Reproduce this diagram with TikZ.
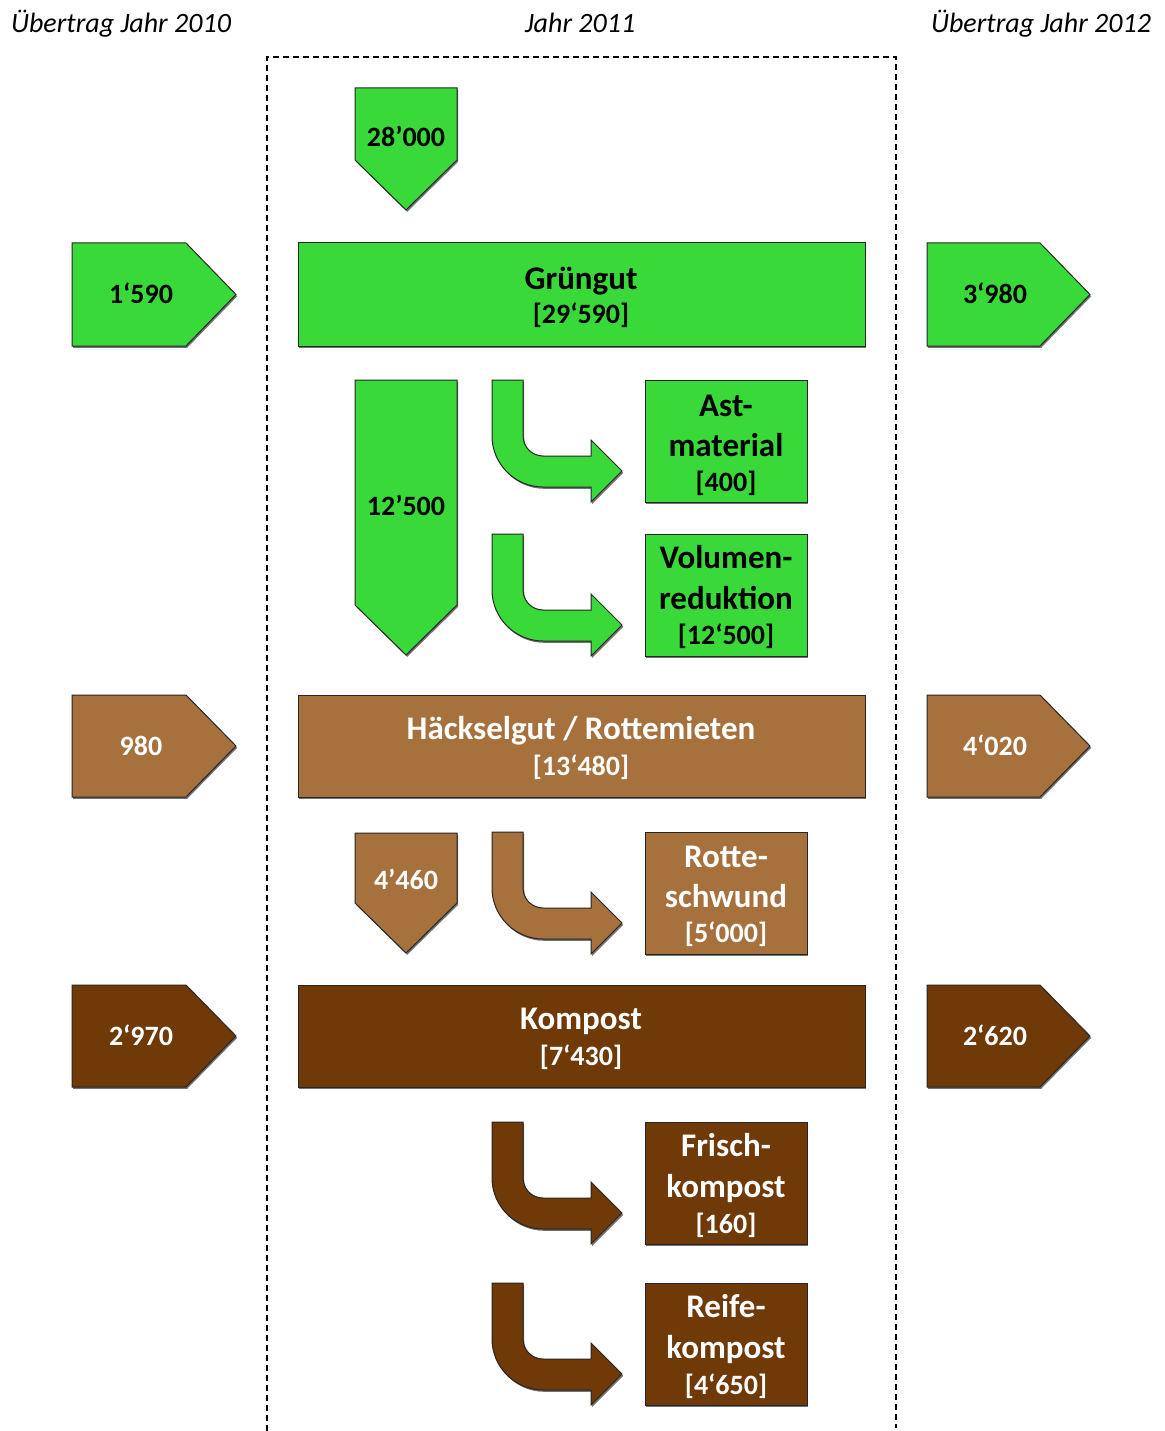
\documentclass[tikz,border=0pt]{standalone}
\usepackage{fontspec}
\setmainfont{Carlito}
\definecolor{cgreen}{RGB}{58,217,58}
\definecolor{cbrown}{RGB}{166,113,61}
\definecolor{cdark}{RGB}{111,57,8}
\tikzset{
  shp/.style={draw=black!85, line width=1pt, line join=miter,
    preaction={fill=black!55, transform canvas={shift={(1.2pt,-1.8pt)}}}},
  sgreen/.style={shp, fill=cgreen},
  sbrown/.style={shp, fill=cbrown},
  sdark/.style={shp, fill=cdark},
  lname/.style={font=\fontsize{33}{33}\selectfont\bfseries, inner sep=0pt, text height=21pt, text depth=0pt},
  lnum/.style={font=\fontsize{28}{28}\selectfont\bfseries, inner sep=0pt, text height=17.7pt, text depth=0pt},
  lhead/.style={font=\fontsize{28}{28}\selectfont\itshape, inner sep=0pt, text height=18pt, text depth=0pt},
  frame/.style={draw=black, line width=1.6pt, dash pattern=on 6pt off 4pt}
}
\newcommand{\bentarrow}[3]{%
  \begin{scope}[shift={(#1,#2)}]
    \path[#3] (0,0) -- (31,0) -- (31,56) .. controls (31,67) and (40,76) .. (51,76)
      -- (99,76) -- (99,60) -- (130,91) -- (99,122) -- (99,107) -- (51,107)
      .. controls (23,107) and (0,84) .. (0,56) -- cycle;
  \end{scope}}
\newcommand{\pentleft}[3]{%
  \path[#3] (72,#1) -- (186,#1) -- (236,{(#1+#2)/2}) -- (186,#2) -- (72,#2) -- cycle;}
\newcommand{\pentright}[3]{%
  \path[#3] (927,#1) -- (1040,#1) -- (1090,{(#1+#2)/2}) -- (1040,#2) -- (927,#2) -- cycle;}
\newcommand{\dnarrow}[4]{%
  \path[#4] (355,#1) -- (457,#1) -- (457,#2) -- (406,#3) -- (355,#2) -- cycle;}
\begin{document}
\begin{tikzpicture}[x=1pt,y=-1pt]
\useasboundingbox (0,0) rectangle (1164,1431);
% headers
\node[lhead] (h1) at (121,24) {Übertrag Jahr 2010};
\node[lhead] (h2) at (580,24) {Jahr 2011};
\node[lhead] (h3) at (1041,24) {Übertrag Jahr 2012};
% dashed frame
\draw[frame] (267,1431) -- (267,57) -- (896,57) -- (896,1428);
% ---------- green level
\dnarrow{88}{160}{210}{sgreen}
\node[lnum] (n28) at (406,138) {28’000};
\path[sgreen] (298,243) rectangle (865,346);
\node[lname] (gr) at (581,279) {Grüngut};
\node[lnum] (grv) at (581,315) {[29‘590]};
\pentleft{243}{346}{sgreen}
\node[lnum] (l1) at (141,295) {1‘590};
\pentright{243}{346}{sgreen}
\node[lnum] (r1) at (995,295) {3‘980};
\dnarrow{380}{605}{655}{sgreen}
\node[lnum] (n125) at (406,507) {12’500};
\bentarrow{492}{380}{sgreen}
\path[sgreen] (645,380) rectangle (807,502);
\node[lname] (a1) at (726,406) {Ast-};
\node[lname] (a2) at (726,446) {material};
\node[lnum] (a3) at (726,483) {[400]};
\bentarrow{492}{534}{sgreen}
\path[sgreen] (645,534) rectangle (807,656);
\node[lname] (v1) at (726,558) {Volumen-};
\node[lname] (v2) at (726,599) {reduktion};
\node[lnum] (v3) at (726,636) {[12‘500]};
% ---------- brown level
\path[sbrown] (298,695) rectangle (865,797);
\node[lname, text=white] (hk) at (581,729) {Häckselgut / Rottemieten};
\node[lnum, text=white] (hkv) at (581,767) {[13‘480]};
\pentleft{695}{797}{sbrown}
\node[lnum, text=white] (l2) at (141,747) {980};
\pentright{695}{797}{sbrown}
\node[lnum, text=white] (r2) at (995,747) {4‘020};
\dnarrow{833}{903}{953}{sbrown}
\node[lnum, text=white] (n446) at (406,881) {4’460};
\bentarrow{492}{832}{sbrown}
\path[sbrown] (645,832) rectangle (807,954);
\node[lname, text=white] (rs1) at (726,857) {Rotte-};
\node[lname, text=white] (rs2) at (726,897) {schwund};
\node[lnum, text=white] (rs3) at (726,934) {[5‘000]};
% ---------- dark level
\path[sdark] (298,985) rectangle (865,1087);
\node[lname, text=white] (ko) at (581,1019) {Kompost};
\node[lnum, text=white] (kov) at (581,1057) {[7‘430]};
\pentleft{985}{1087}{sdark}
\node[lnum, text=white] (l3) at (141,1037) {2‘970};
\pentright{985}{1087}{sdark}
\node[lnum, text=white] (r3) at (995,1037) {2‘620};
\bentarrow{492}{1122}{sdark}
\path[sdark] (645,1122) rectangle (807,1244);
\node[lname, text=white] (f1) at (726,1146) {Frisch-};
\node[lname, text=white] (f2) at (726,1187) {kompost};
\node[lnum, text=white] (f3) at (726,1225) {[160]};
\bentarrow{492}{1283}{sdark}
\path[sdark] (645,1283) rectangle (807,1405);
\node[lname, text=white] (rf1) at (726,1307) {Reife-};
\node[lname, text=white] (rf2) at (726,1348) {kompost};
\node[lnum, text=white] (rf3) at (726,1386) {[4‘650]};
\end{tikzpicture}
\end{document}
